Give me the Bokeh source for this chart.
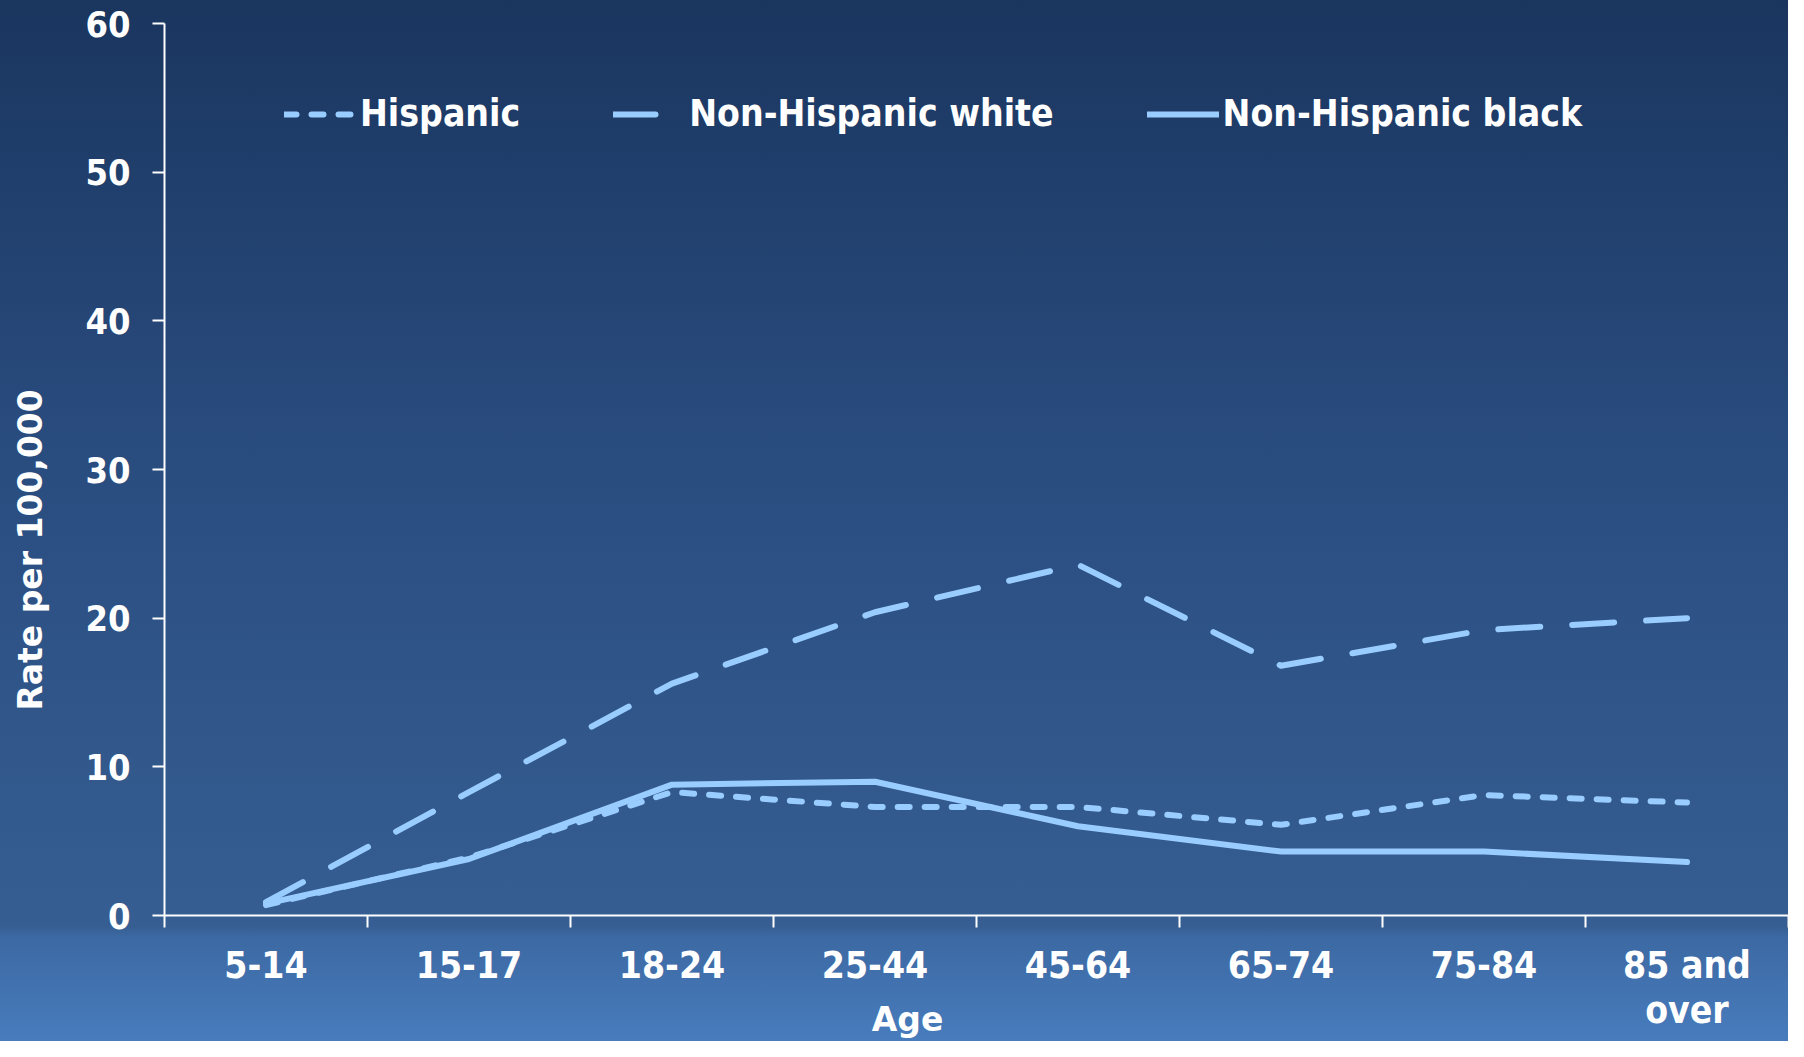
from bokeh.plotting import figure
from bokeh.models import FixedTicker, Legend, LegendItem, Range1d
from bokeh.embed import file_html
from bokeh.resources import INLINE

# ---- data ----
categories = ["5-14", "15-17", "18-24", "25-44", "45-64", "65-74", "75-84", "85 and\nover"]
hispanic = [0.7, 3.9, 8.3, 7.3, 7.3, 6.1, 8.1, 7.6]
nh_white = [0.9, 8.3, 15.6, 20.4, 23.6, 16.8, 19.2, 20.0]
nh_black = [0.8, 3.8, 8.8, 9.0, 6.0, 4.3, 4.3, 3.6]
y_ticks = [0, 10, 20, 30, 40, 50, 60]
x_title = "Age"
y_title = "Rate per 100,000"

x_pos = [i + 0.5 for i in range(len(categories))]

COND = "DejaVu Sans Condensed"
WIDE = "DejaVu Sans"
LINE = "#99CCFF"
NB = "\u00a0"

p = figure(width=1788, height=1041, output_backend="svg", toolbar_location=None,
           x_range=Range1d(0, len(categories)), y_range=Range1d(0, 60),
           min_border_left=164, min_border_right=0, min_border_top=23, min_border_bottom=126)
p.styles = {"background": "linear-gradient(to bottom, #1A365F 0%, #2A4D80 45%, #365E92 89%, #3C69A3 90%, #487CBD 100%)"}
p.background_fill_color = None
p.border_fill_color = None
p.outline_line_color = None
p.xgrid.visible = False
p.ygrid.visible = False

# x axis: labels at category centres, tick marks at category boundaries
xa = p.xaxis[0]
xa.ticker = FixedTicker(ticks=x_pos, minor_ticks=list(range(len(categories) + 1)))
xa.major_label_overrides = {x: c for x, c in zip(x_pos, categories)}
xa.major_tick_out = 0
xa.major_tick_in = 0
xa.minor_tick_out = 12
xa.minor_tick_in = 0
xa.minor_tick_line_color = "white"
xa.minor_tick_line_width = 2
xa.axis_line_color = "white"
xa.axis_line_width = 2
xa.major_label_text_font = COND
xa.major_label_text_font_style = "bold"
xa.major_label_text_font_size = "37px"
xa.major_label_text_color = "white"
xa.major_label_text_line_height = 1.05
xa.major_label_standoff = 16
xa.axis_label = x_title + NB * 12
xa.axis_label_text_font = WIDE
xa.axis_label_text_font_style = "bold"
xa.axis_label_text_font_size = "33px"
xa.axis_label_text_color = "white"
xa.axis_label_standoff = -35

ya = p.yaxis[0]
ya.ticker = FixedTicker(ticks=y_ticks, minor_ticks=[])
ya.major_tick_out = 12
ya.major_tick_in = 0
ya.major_tick_line_color = "white"
ya.major_tick_line_width = 2
ya.axis_line_color = "white"
ya.axis_line_width = 2
ya.major_label_text_font = COND
ya.major_label_text_font_style = "bold"
ya.major_label_text_font_size = "36px"
ya.major_label_text_color = "white"
ya.major_label_standoff = 22
ya.axis_label = y_title + NB * 14
ya.axis_label_text_font = WIDE
ya.axis_label_text_font_style = "bold"
ya.axis_label_text_font_size = "33px"
ya.axis_label_text_color = "white"
ya.axis_label_standoff = 32

# lines
common = dict(line_color=LINE, line_width=6, line_cap="round", line_join="round")
r_h = p.line(x_pos, hispanic, line_dash="12 15", **common)
r_w = p.line(x_pos, nh_white, line_dash="42 32", **common)
r_b = p.line(x_pos, nh_black, **common)

legend = Legend(items=[LegendItem(label="Hispanic", renderers=[r_h]),
                       LegendItem(label="Non-Hispanic white", renderers=[r_w]),
                       LegendItem(label="Non-Hispanic black", renderers=[r_b])],
                orientation="horizontal", location=(120, 780),
                padding=0, margin=0, spacing=93,
                glyph_width=72, glyph_height=40, label_height=40, label_standoff=4,
                border_line_color=None, background_fill_alpha=0,
                label_text_font=COND, label_text_font_style="bold",
                label_text_font_size="37px", label_text_color="white")
p.add_layout(legend, "center")

open("out.html", "w").write(file_html(p, INLINE))
